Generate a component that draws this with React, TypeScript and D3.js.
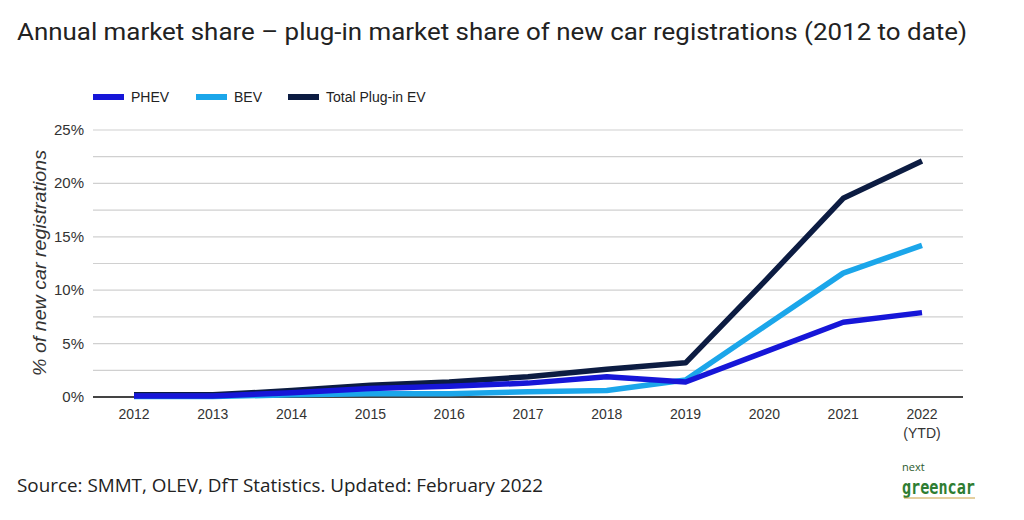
import React from "react";
import * as d3 from "d3";

const years = ["2012", "2013", "2014", "2015", "2016", "2017", "2018", "2019", "2020", "2021", "2022"];
const phev = [0.1, 0.1, 0.4, 0.8, 1.0, 1.3, 1.9, 1.4, 4.2, 7.0, 7.9];
const bev = [0.05, 0.05, 0.2, 0.3, 0.3, 0.5, 0.6, 1.6, 6.6, 11.6, 14.2];
const total = [0.2, 0.2, 0.6, 1.1, 1.4, 1.9, 2.6, 3.2, 10.8, 18.6, 22.1];
const yTicks = [0, 5, 10, 15, 20, 25];
const gridTicks = [0, 2.5, 5, 7.5, 10, 12.5, 15, 17.5, 20, 22.5, 25];

const seriesDefs = [
  { name: "PHEV", values: phev, color: "#1616d8" },
  { name: "BEV", values: bev, color: "#1ba6ea" },
  { name: "Total Plug-in EV", values: total, color: "#0c1c42" },
];

export default function App() {
  const W = 1024, H = 520;
  const left = 93, right = 963, top = 130, bottom = 397;
  const x = d3.scalePoint<string>().domain(years).range([134, 922]);
  const y = d3.scaleLinear().domain([0, 25]).range([bottom, top]);
  const line = d3.line<number>().x((_, i) => x(years[i]) as number).y((v) => y(v)).curve(d3.curveLinear);
  const legendX = [93, 196, 288];
  const drawOrder = [2, 1, 0];
  const sans = "'Liberation Sans', Arial, sans-serif";
  return (
    <svg width={W} height={H} style={{ position: "absolute", left: 0, top: 0, background: "#fff" }}>
      <rect x={0} y={0} width={W} height={H} fill="#fff" />
      <text x={17} y={40} fontFamily="Roboto, sans-serif" fontSize={24} fill="#222" textLength={950} lengthAdjust="spacingAndGlyphs">
        Annual market share – plug-in market share of new car registrations (2012 to date)
      </text>
      {seriesDefs.map((s, i) => (
        <g key={s.name}>
          <rect x={legendX[i]} y={94} width={31} height={6} fill={s.color} />
          <text x={legendX[i] + 38} y={102} fontFamily={sans} fontSize={14} fill="#222">{s.name}</text>
        </g>
      ))}
      {gridTicks.map((t) => (
        <line key={t} x1={left} x2={right} y1={y(t)} y2={y(t)} stroke="#d0d0d0" strokeWidth={1.2} />
      ))}
      {yTicks.map((t) => (
        <text key={t} x={84} y={y(t) + 5} textAnchor="end" fontFamily={sans} fontSize={15} fill="#333">{t}%</text>
      ))}
      <text transform={`translate(46,263) rotate(-90)`} textAnchor="middle" fontFamily={sans} fontSize={18} fontStyle="italic" fill="#333" textLength={226} lengthAdjust="spacingAndGlyphs">
        % of new car registrations
      </text>
      <line x1={left} x2={right} y1={bottom} y2={bottom} stroke="#444" strokeWidth={2} />
      {years.map((yr) => (
        <text key={yr} x={x(yr)} y={419} textAnchor="middle" fontFamily={sans} fontSize={14} fill="#333">{yr}</text>
      ))}
      <text x={x("2022")} y={438} textAnchor="middle" fontFamily={sans} fontSize={14} fill="#333">(YTD)</text>
      {drawOrder.map((i) => (
        <path key={seriesDefs[i].name} d={line(seriesDefs[i].values) || ""} fill="none" stroke={seriesDefs[i].color} strokeWidth={5.5} strokeLinejoin="round" />
      ))}
      <text x={17} y={492} fontFamily="'Open Sans', sans-serif" fontSize={19} fill="#222" textLength={526} lengthAdjust="spacingAndGlyphs">
        Source: SMMT, OLEV, DfT Statistics. Updated: February 2022
      </text>
      <text x={902} y={471} fontFamily="'Open Sans', sans-serif" fontSize={11} fill="#2d5a2d">next</text>
      <text x={902} y={494} fontFamily="'DejaVu Sans Mono', monospace" fontSize={19} fontWeight="bold" fill="#2e7d32" textLength={73} lengthAdjust="spacingAndGlyphs">greencar</text>
      <line x1={904} x2={975} y1={498} y2={498} stroke="#c8a040" strokeWidth={1} />
    </svg>
  );
}
